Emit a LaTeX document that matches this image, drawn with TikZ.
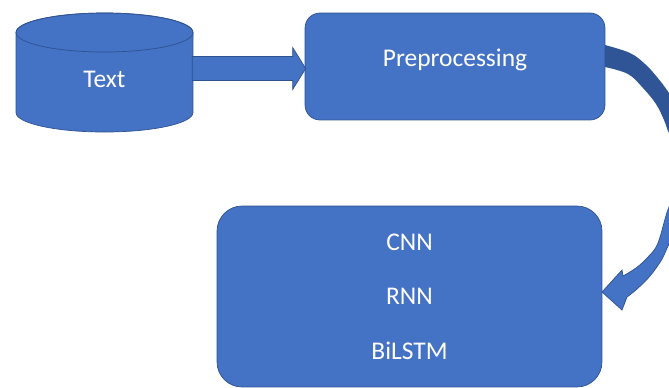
\documentclass[tikz,border=0pt]{standalone}
\usepackage{fontspec}
\setmainfont{Carlito}
\usetikzlibrary{calc}
\definecolor{boxblue}{RGB}{68,114,196}
\definecolor{boxline}{RGB}{47,82,143}
\definecolor{backblue}{RGB}{47,85,151}

\begin{document}
\begin{tikzpicture}[x=0.02cm,y=-0.02cm]

        \tikzset{blockbox/.style={rectangle,rounded corners=0.3cm,fill=boxblue,draw=boxline,line width=0.4pt,text=white}}
        \tikzset{blockfill/.style={fill=boxblue,draw=boxline,line width=0.4pt}}

        \fontsize{14.5}{31}\selectfont

        \useasboundingbox (0,0) rectangle (669,387);

        % Draw the drum
        \filldraw[blockfill] (16,32.5) -- (16,112.5) arc[start angle=180,end angle=360,x radius=1.77cm,y radius=0.39cm]
            -- (193,32.5) arc[start angle=0,end angle=180,x radius=1.77cm,y radius=0.39cm] -- cycle;
        \draw[boxline,line width=0.4pt] (104.5,32.5) ellipse [x radius=1.77cm,y radius=0.39cm];

        % Draw nodes
        \node (txt) at (104.5,72.5) [minimum width=3.54cm,minimum height=2.38cm,inner sep=0pt,text=white,text height=16.8pt] {Text};
        \node (pre) at (455,66.5) [blockbox,minimum width=6cm,minimum height=2.14cm,text depth=9.5pt] {Preprocessing};
        \node (mdl) at (409.5,296.5) [blockbox,rounded corners=0.5cm,minimum width=7.7cm,minimum height=3.62cm,align=center] {CNN\\RNN\\BiLSTM};

        % Draw arrows
        \filldraw[blockfill] ($(txt.east|-pre.west)+(-1,-10)$) -- ($(pre.west)+(-12,-10)$) -- ($(pre.west)+(-12,-19)$)
            -- ($(pre.west)+(1,2)$) -- ($(pre.west)+(-12,23)$) -- ($(pre.west)+(-12,14)$) -- ($(txt.east|-pre.west)+(-1,14)$) -- cycle;
        \begin{scope}
            \clip (0,0) rectangle (669,387);
            % back of the bend
            \fill[backblue] plot[smooth,tension=0.6] coordinates {(605,45) (630,53) (645,64) (657,77) (669,93) (690,125) (705,165)}
                -- plot[smooth,tension=0.6] coordinates {(690,168) (680,150) (669,133) (664,120) (656,104) (643,88) (628,74) (605,67)} -- cycle;
            % front of the bend
            \filldraw[blockfill] plot[smooth,tension=0.6] coordinates {(705,165) (698,200) (683,222) (670,242) (662,259) (650,276) (637,289) (627,297)}
                -- (622,310) -- (602,292) -- (622,270)
                -- plot[smooth,tension=0.6] coordinates {(623,276) (636,268) (648,257) (658,243) (669,207) (682,188) (690,168)} -- cycle;
        \end{scope}

    \end{tikzpicture}
\end{document}
